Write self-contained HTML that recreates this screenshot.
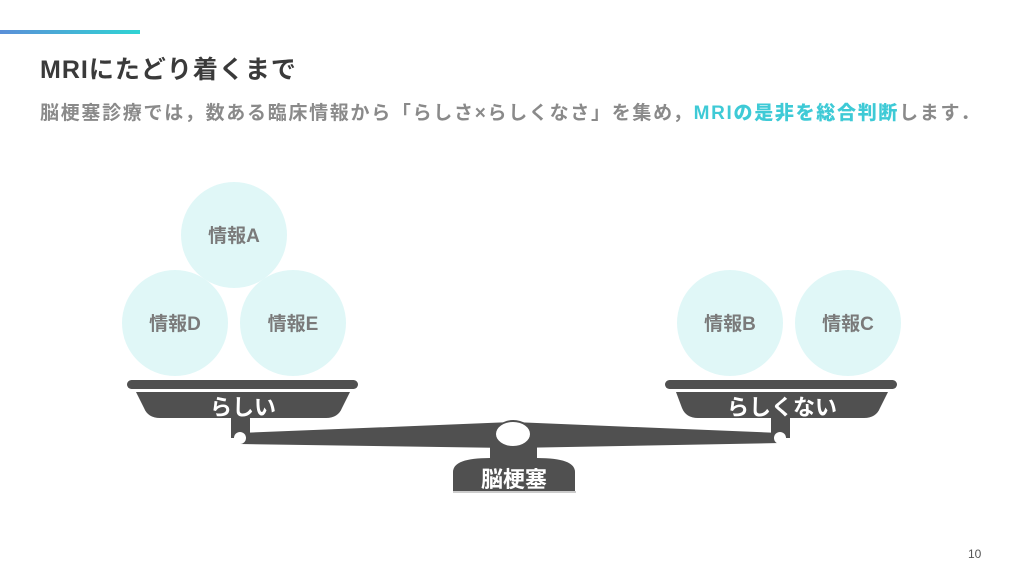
<!DOCTYPE html>
<html><head><meta charset="utf-8"><style>
body{margin:0;width:1024px;height:576px;background:#fff;overflow:hidden;position:relative;font-family:"Liberation Sans","Noto Sans CJK JP",sans-serif}
.bar{position:absolute;left:0;top:30px;width:140px;height:4px;background:linear-gradient(90deg,#5b8fd8,#2fd4d4)}
h1{position:absolute;left:40px;top:50px;margin:0;font-size:25px;font-weight:bold;color:#3a3a3a;letter-spacing:1px}
.sub{position:absolute;left:40px;top:98px;font-size:19px;font-weight:bold;color:#8a8a8a;letter-spacing:1.7px;white-space:nowrap}
.sub b{color:#3ecad6}
.pg{position:absolute;left:968px;top:547px;font-size:12px;color:#555}
</style></head><body>
<div class="bar"></div>
<h1>MRIにたどり着くまで</h1>
<div class="sub">脳梗塞診療では，数ある臨床情報から「らしさ×らしくなさ」を集め，<b>MRIの是非を総合判断</b>します．</div>
<svg width="1024" height="576" style="position:absolute;left:0;top:0" font-family="Liberation Sans, Noto Sans CJK JP, sans-serif">
<g fill="#e0f7f7">
<circle cx="234" cy="235" r="53"/><circle cx="175" cy="323" r="53"/><circle cx="293" cy="323" r="53"/>
<circle cx="730" cy="323" r="53"/><circle cx="848" cy="323" r="53"/>
</g>
<g fill="#7a7a7a" font-size="19" font-weight="bold" text-anchor="middle">
<text x="234" y="242">情報A</text><text x="175" y="330">情報D</text><text x="293" y="330">情報E</text>
<text x="730" y="330">情報B</text><text x="848" y="330">情報C</text>
</g>
<g fill="#505050">
<rect x="127" y="380" width="231" height="9" rx="4.5"/>
<path d="M136 392 H350 L342 408 Q338 418 326 418 H160 Q148 418 144 408 Z"/>
<rect x="231" y="416" width="19" height="22"/>
<rect x="665" y="380" width="232" height="9" rx="4.5"/>
<path d="M676 392 H888 L880 408 Q876 418 864 418 H698 Q686 418 682 408 Z"/>
<rect x="771" y="416" width="19" height="22"/>
<path d="M240 433 L513 422 L780 433 L780 443 L513 448 L240 444 Z"/>
<path d="M490 440 Q490 428 500 424 Q513 416 527 424 Q537 428 537 440 L537 458 Q575 458 575 472 L575 492 H453 L453 472 Q453 458 490 458 Z"/>
</g>
<g fill="#fff">
<circle cx="240" cy="438" r="6"/><circle cx="780" cy="438" r="6"/>
<ellipse cx="513" cy="434" rx="17" ry="12"/>
</g>
<rect x="453" y="491" width="123" height="2" fill="#ccc"/>
<g fill="#fff" font-size="22" text-anchor="middle" font-weight="bold">
<text x="243" y="415">らしい</text>
<text x="782" y="415">らしくない</text>
<text x="514" y="487">脳梗塞</text>
</g>
</svg>
<div class="pg">10</div>
</body></html>
